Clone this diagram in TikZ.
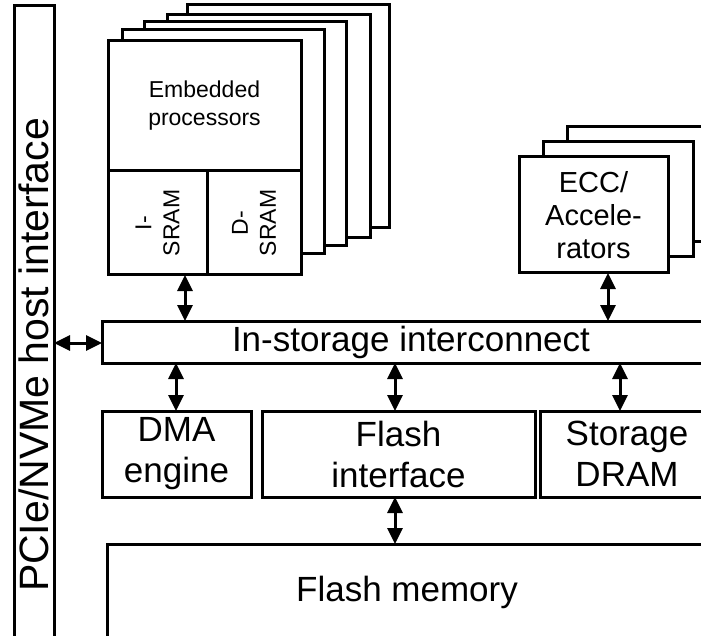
\documentclass[tikz,border=0pt]{standalone}
\usepackage{fontspec}
\setmainfont{Liberation Sans}
\usetikzlibrary{arrows.meta}
\tikzset{
  blk/.style={draw, line width=3pt, fill=white, inner sep=0pt, outer sep=0pt, anchor=north west, align=center},
  dbl/.style={line width=3pt, >={Triangle[length=16pt,width=15pt]}, <->},
  big/.style={font=\fontsize{35}{41}\selectfont},
  huge/.style={font=\fontsize{41}{48}\selectfont},
  mid/.style={font=\fontsize{29}{33}\selectfont},
  small/.style={font=\fontsize{23}{28}\selectfont},
  lbl/.style={inner sep=0pt, align=center},
}
\newcommand\mybox[6]{\node[blk, minimum width={(#4-#2)*1pt}, minimum height={(#5-#3)*1pt}] (#1) at (#2,#3) {};
  \node[lbl,#6] at (#1.center)}
\begin{document}
\begin{tikzpicture}[x=1pt,y=-1pt]
\useasboundingbox (0,0) rectangle (701,636);
\fill[white] (0,0) rectangle (701,636);
\clip (0,0) rectangle (701,636);

\mybox{pcie}{14}{6}{54}{704}{huge, rotate=90} {PCIe/NVMe host interface};

\mybox{embE}{187}{5}{389}{228}{}{};
\mybox{embD}{167}{15}{370}{238}{}{};
\mybox{embC}{144}{22}{346}{246}{}{};
\mybox{embB}{122}{30}{324}{254}{}{};
\mybox{emb}{108}{41}{301}{275}{}{};
\mybox{embtop}{108}{41}{301}{171}{small}{Embedded\\processors};
\mybox{isram}{108}{171}{207}{275}{small, rotate=90}{I-\\SRAM};
\mybox{dsram}{207}{171}{301}{275}{small, rotate=90}{D-\\SRAM};

\mybox{eccC}{567}{127}{717}{242}{}{};
\mybox{eccB}{543}{142}{693}{257}{}{};
\mybox{ecc}{519}{157}{668}{273}{mid}{ECC/\\Accele-\\rators};

\mybox{ic}{102}{321}{720}{363}{big}{In-storage interconnect};
\mybox{dma}{102}{411}{251}{497}{big}{DMA\\engine};
\mybox{fi}{262}{411}{535}{497}{big}{Flash\\interface};
\mybox{dram}{540}{411}{714}{497}{big}{Storage\\DRAM};
\mybox{fm}{107}{544}{707}{640}{big}{Flash memory};

\coordinate (yh) at (0,343);
\coordinate (xe) at (185,0);
\coordinate (xa) at (608,0);
\coordinate (xd) at (176,0);
\coordinate (xf) at (395,0);
\coordinate (xr) at (620,0);

\draw[dbl] (pcie.east |- yh) -- (ic.west |- yh);
\draw[dbl] (xe |- emb.south) -- (xe |- ic.north);
\draw[dbl] (xa |- ecc.south) -- (xa |- ic.north);
\draw[dbl] (xd |- ic.south) -- (xd |- dma.north);
\draw[dbl] (xf |- ic.south) -- (xf |- fi.north);
\draw[dbl] (xr |- ic.south) -- (xr |- dram.north);
\draw[dbl] (xf |- fi.south) -- (xf |- fm.north);
\end{tikzpicture}
\end{document}
